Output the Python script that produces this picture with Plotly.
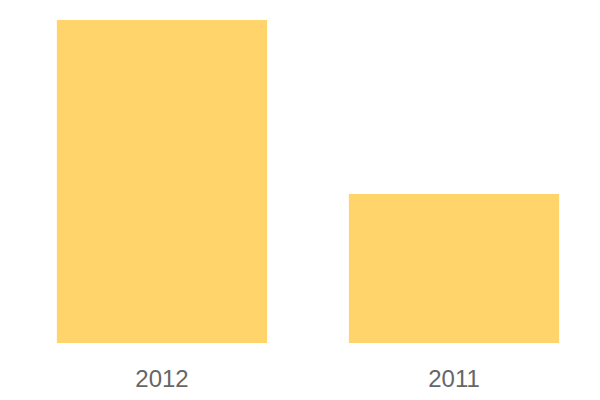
import plotly.graph_objects as go

years = ["2012", "2011"]
values = [65, 30]

fig = go.Figure(go.Bar(x=years, y=values, marker=dict(color="#FFD56B", line=dict(width=0))))
fig.update_layout(
    width=600, height=400,
    margin=dict(l=8, r=8, t=12, b=65),
    paper_bgcolor="white", plot_bgcolor="white",
    bargap=0.28, showlegend=False,
    font=dict(family="Liberation Sans, Arial, sans-serif", color="#666666", size=24),
)
fig.update_xaxes(showgrid=False, showline=False, zeroline=False,
                 ticks="outside", ticklen=14, tickcolor="rgba(0,0,0,0)",
                 tickfont=dict(size=24, color="#666666"))
fig.update_yaxes(visible=False, range=[0, 65], showgrid=False, zeroline=False)
fig.write_html("out.html")
